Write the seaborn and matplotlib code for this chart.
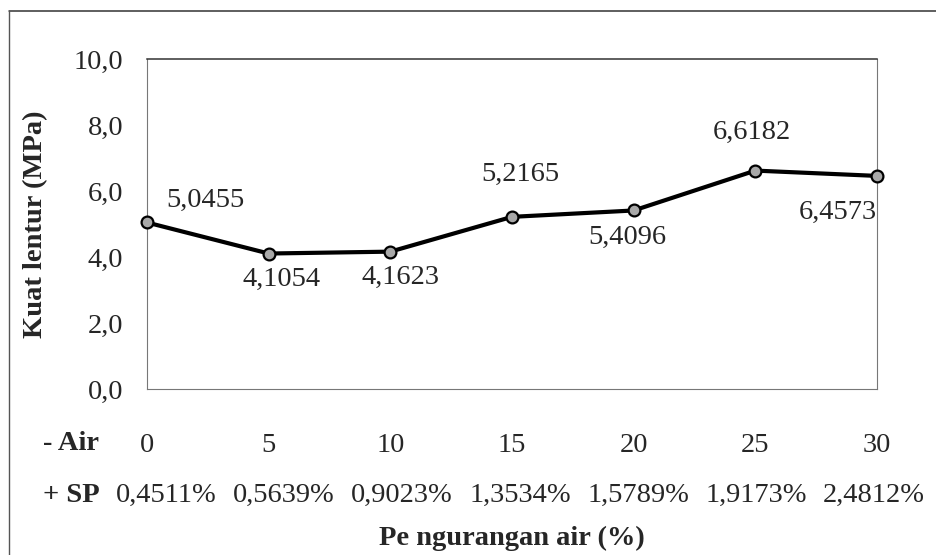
import numpy as np
import matplotlib
matplotlib.use("Agg")
import matplotlib.pyplot as plt
from matplotlib.lines import Line2D
import seaborn as sns

# data
pengurangan_air = [0, 5, 10, 15, 20, 25, 30]
sp_persen = ["0,4511%", "0,5639%", "0,9023%", "1,3534%", "1,5789%", "1,9173%", "2,4812%"]
kuat_lentur = [5.0455, 4.1054, 4.1623, 5.2165, 5.4096, 6.6182, 6.4573]
y_ticks = [0, 2, 4, 6, 8, 10]

# value label offsets in pixels (dx right, dy down)
label_offsets_px = [(58, -22), (13, 26), (10, 26), (8, -42), (-6, 27), (-3, -38), (-39, 36)]

sns.set_style("white")
plt.rcParams['font.family'] = ['Liberation Serif', 'DejaVu Serif']
FS = 20.5

W, H = 936, 555
fig = plt.figure(figsize=(W / 100, H / 100), dpi=100)
ax = fig.add_axes([147 / W, 1 - 389 / H, (877 - 147) / W, (389 - 59) / H])

sns.lineplot(x=pengurangan_air, y=kuat_lentur, ax=ax, color="black", linewidth=3,
             marker="o", markersize=8.5, markerfacecolor="#a8a8a8",
             markeredgecolor="black", markeredgewidth=1.6, clip_on=False, zorder=3)

def fmt(v, d):
    return f"{v:.{d}f}".replace(".", ",")

for x, y, (dx, dy) in zip(pengurangan_air, kuat_lentur, label_offsets_px):
    ax.annotate(fmt(y, 4), (x, y), xytext=(dx * 0.72, -dy * 0.72),
                textcoords="offset points", ha="center", va="center", fontsize=FS)

ax.set_xlim(0, 30)
ax.set_ylim(0, 10)
ax.set_yticks(y_ticks)
ax.set_yticklabels([fmt(v, 1) for v in y_ticks], fontsize=FS)
ax.set_xticks(pengurangan_air)
ax.set_xticklabels([str(v) for v in pengurangan_air], fontsize=FS)
ax.tick_params(axis="y", direction="out", length=7, width=0.8, color="#555555", pad=10)
ax.tick_params(axis="x", direction="out", length=4, width=0.8, color="#888888", pad=28)

ax.spines["top"].set_color("#333333")
ax.spines["top"].set_linewidth(1.1)
for side in ["left", "right", "bottom"]:
    ax.spines[side].set_color("#777777")
    ax.spines[side].set_linewidth(0.8)

# second row of x labels (evenly spaced, slightly narrower than the ticks)
for i, s in enumerate(sp_persen):
    fig.text((166 + i * 118) / W, 1 - 495 / H, s, ha="center", va="center", fontsize=FS)

fig.text(43 / W, 1 - 443 / H, "- Air", ha="left", va="center",
         fontsize=FS, fontweight="bold")
fig.text(43 / W, 1 - 495 / H, "+ SP", ha="left", va="center",
         fontsize=FS, fontweight="bold")
fig.text(512 / W, 1 - 538 / H, "Pe ngurangan air (%)", ha="center", va="center",
         fontsize=FS, fontweight="bold")
fig.text(36 / W, 1 - 224 / H, "Kuat lentur (MPa)", ha="center", va="center",
         fontsize=FS, fontweight="bold", rotation=90)

# outer frame: top and left edges only
fig.add_artist(Line2D([9 / W, 1], [1 - 11 / H, 1 - 11 / H], color="#333333", linewidth=1.1))
fig.add_artist(Line2D([9 / W, 9 / W], [0, 1 - 11 / H], color="#555555", linewidth=1.0))

fig.savefig("out.png", dpi=100)
